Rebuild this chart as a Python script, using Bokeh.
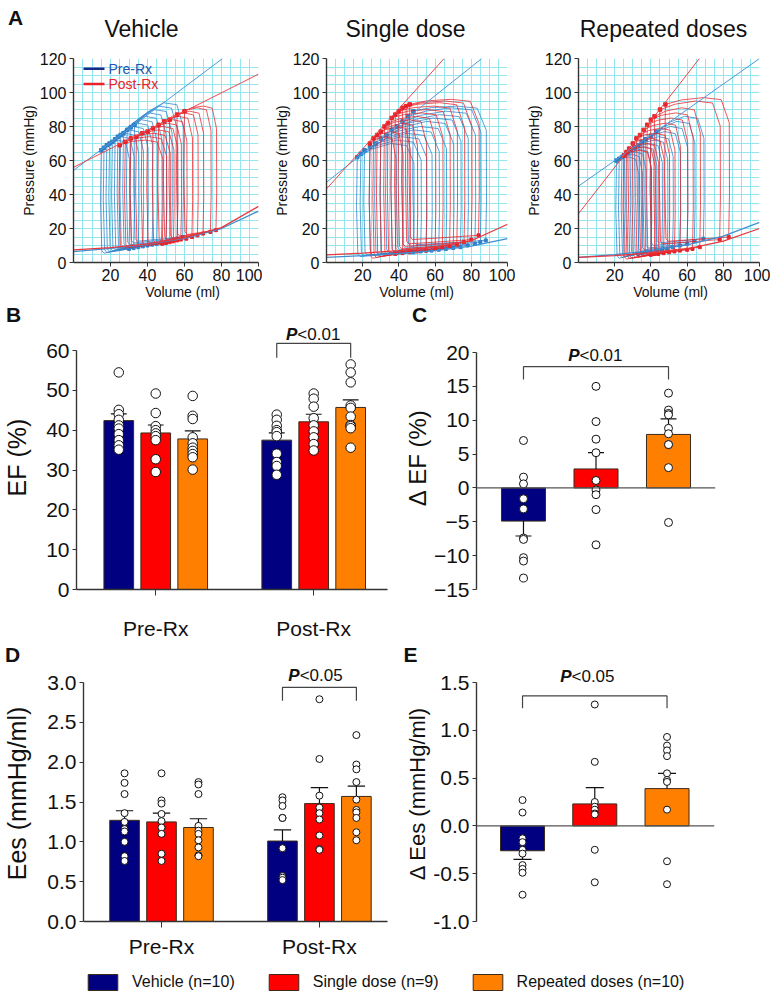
import math
from bokeh.plotting import figure
from bokeh.layouts import column, row
from bokeh.models import (Range1d, Label, Span, FixedTicker, SingleIntervalTicker,
                          NumeralTickFormatter, Legend, LegendItem, Spacer)
from bokeh.embed import file_html
from bokeh.resources import INLINE
from bokeh.core.properties import value

FONT = "Liberation Sans"
FONT_V = value(FONT)

# ---------------- data ----------------
groups = ["Vehicle (n=10)", "Single dose (n=9)", "Repeated doses (n=10)"]
bar_colors = ["#000080", "#ff0000", "#ff8000"]
phases = ["Pre-Rx", "Post-Rx"]
pv_titles = ["Vehicle", "Single dose", "Repeated doses"]

# Panel A: pressure-volume loops (end-systolic vol, end-diastolic vol, end-systolic P, peak P, end-diastolic P)
veh_pre_esv = [15, 16.5, 18, 19.5, 21, 22.5, 24, 25.5, 27, 29, 31, 33]
veh_pre_edv = [30, 32.5, 35, 37.5, 40, 42.5, 45, 47.5, 50, 53, 56, 59]
veh_pre_esp = [66, 67.5, 69, 70, 71, 72.5, 74, 75, 76, 78, 79.5, 81]
veh_pre_pmax = [72, 74, 76, 78, 80, 82, 84, 86, 88, 90, 92, 94]
veh_pre_edp = [8, 8.5, 9, 9.5, 10, 10.5, 11, 11.5, 12, 13, 14, 15]
veh_post_esv = [25, 28, 31, 34, 37, 40, 43, 46, 49, 52, 56, 60]
veh_post_edv = [48, 50, 52, 54, 56, 58, 61, 64, 67, 70, 74, 77]
veh_post_esp = [69, 71, 73, 74, 76, 77, 79, 81, 83, 84, 87, 89]
veh_post_pmax = [72, 74, 76, 78, 80, 82, 84, 86, 88, 89, 91, 92]
veh_post_edp = [11, 11.5, 12, 12.5, 13, 13.5, 14, 15, 16, 17, 18, 19]

sgl_pre_esv = [17, 19, 21, 24, 27, 30, 33, 36, 39, 42, 45, 48]
sgl_pre_edv = [48, 52, 55, 58, 62, 66, 70, 74, 78, 82, 85, 88]
sgl_pre_esp = [62, 64, 66, 68, 70, 73, 75, 78, 80, 83, 86, 89]
sgl_pre_pmax = [70, 72, 74, 76, 78, 80, 83, 85, 87, 89, 91, 92]
sgl_pre_edp = [6, 6.5, 7, 7, 7.5, 8, 8.5, 9, 10, 11, 12, 13]
sgl_post_esv = [24, 26, 28, 30, 32, 34, 36, 38, 40, 42, 44, 46]
sgl_post_edv = [38, 42, 46, 50, 55, 60, 64, 68, 72, 76, 80, 84]
sgl_post_esp = [70, 73, 75, 77, 80, 82, 85, 87, 89, 91, 92, 93]
sgl_post_pmax = [74, 77, 80, 82, 84, 86, 88, 90, 92, 94, 95, 96]
sgl_post_edp = [5, 5.5, 6, 6.5, 7, 8, 8.5, 9.5, 10.5, 12, 13.5, 16]

rep_pre_esv = [21, 22.5, 24, 25.5, 27, 29, 31, 33, 35, 37, 40, 43]
rep_pre_edv = [33, 35, 37, 40, 43, 46, 49, 52, 56, 60, 64, 69]
rep_pre_esp = [60, 61, 62, 63, 64.5, 66, 67.5, 69, 71, 72.5, 74.5, 77]
rep_pre_pmax = [62, 63.5, 65, 66.5, 68, 70, 72, 74, 77, 80, 83, 86]
rep_pre_edp = [5, 5.5, 6, 6.5, 7, 7.5, 8, 9, 10, 11, 12.5, 14]
rep_post_esv = [25, 26.5, 28, 30, 32, 34, 36, 38, 40, 42, 45, 48]
rep_post_edv = [40, 42, 44, 47, 50, 53, 56, 60, 63, 67, 78, 83]
rep_post_esp = [63, 65, 67, 70, 73, 75, 78, 81, 84, 86, 90, 93]
rep_post_pmax = [66, 68, 70, 73, 76, 79, 82, 85, 88, 91, 95, 97]
rep_post_edp = [4.5, 5, 5, 5.5, 6, 6.5, 7, 7.5, 8, 9, 13.5, 15]

# ESPVR lines (two end points each: volumes, pressures)
veh_espvr_pre = ([0, 80.6], [54.2, 120])
veh_espvr_post = ([0, 100], [56, 110.8])
sgl_espvr_pre = ([0, 85.8], [47.2, 120])
sgl_espvr_post = ([0, 65], [43.3, 120])
rep_espvr_pre = ([0, 100], [44.9, 120])
rep_espvr_post = ([0, 66.8], [28.7, 120])

# EDPVR curves
edpvr_vol = [0, 20, 40, 60, 80, 100]
veh_edpvr_pre = [6.4, 8.3, 10.6, 14.2, 20.0, 30.2]
veh_edpvr_post = [7.4, 8.8, 11.0, 14.6, 20.5, 33.0]
sgl_edpvr_pre = [3.0, 4.0, 5.3, 7.0, 9.6, 14.0]
sgl_edpvr_post = [4.5, 5.5, 7.0, 9.2, 12.8, 22.5]
rep_edpvr_pre = [3.0, 4.6, 7.0, 10.4, 15.5, 23.6]
rep_edpvr_post = [3.0, 4.0, 5.6, 8.0, 12.6, 20.0]

pv_x_ticks = [20, 40, 60, 80, 100]
pv_y_ticks = [0, 20, 40, 60, 80, 100, 120]

# Panel B: EF (%)
ef_pre_mean = [42.4, 39.3, 37.8]
ef_pre_sem = [1.7, 2.0, 2.0]
ef_post_mean = [37.5, 42.1, 45.7]
ef_post_sem = [1.8, 1.9, 1.9]
ef_pre_vehicle = [54.5, 45.1, 44.0, 42.6, 41.2, 40.4, 39.0, 37.5, 36.2, 35.1]
ef_pre_single = [49.2, 44.3, 41.0, 40.0, 39.2, 38.5, 37.5, 32.7, 29.5]
ef_pre_repeated = [48.6, 43.6, 42.8, 38.2, 36.7, 35.6, 34.8, 34.0, 33.2, 30.1]
ef_post_vehicle = [43.9, 42.6, 41.1, 40.0, 39.5, 38.5, 34.1, 32.0, 31.0, 28.8]
ef_post_single = [49.2, 47.9, 45.9, 43.0, 41.2, 39.7, 38.2, 36.5, 34.9]
ef_post_repeated = [56.5, 54.5, 52.0, 46.2, 45.6, 43.4, 41.3, 41.0, 40.5, 35.6]
ef_ticks = [0, 10, 20, 30, 40, 50, 60]

# Panel C: delta EF
def_mean = [-4.9, 2.8, 7.9]
def_sem = [2.2, 2.4, 2.3]
def_vehicle = [7.0, 1.6, 0.6, -1.6, -3.1, -7.4, -7.6, -10.3, -10.8, -13.3]
def_single = [15.0, 9.8, 7.2, 5.2, 1.1, -0.3, -1.0, -3.2, -8.4]
def_repeated = [14.0, 11.5, 11.0, 10.8, 8.8, 8.0, 6.4, 6.4, 3.0, -5.1]
def_ticks = [-15, -10, -5, 0, 5, 10, 15, 20]

# Panel D: Ees
ees_pre_mean = [1.27, 1.25, 1.18]
ees_pre_sem = [0.12, 0.11, 0.11]
ees_post_mean = [1.01, 1.48, 1.57]
ees_post_sem = [0.14, 0.20, 0.13]
ees_pre_vehicle = [1.86, 1.74, 1.60, 1.36, 1.25, 1.16, 1.00, 0.82, 0.76, 1.13]
ees_pre_single = [1.86, 1.52, 1.48, 1.35, 1.26, 1.18, 1.10, 0.85, 0.76]
ees_pre_repeated = [1.75, 1.72, 1.60, 1.20, 1.14, 1.10, 1.02, 0.93, 0.83, 0.82]
ees_post_vehicle = [1.56, 1.52, 1.45, 1.30, 0.92, 0.92, 0.57, 0.55, 0.52, 1.30]
ees_post_single = [2.79, 2.04, 1.58, 1.43, 1.36, 1.28, 1.08, 0.91, 0.90]
ees_post_repeated = [2.34, 1.97, 1.91, 1.75, 1.53, 1.40, 1.37, 1.12, 1.02, 1.30]
ees_ticks = [0, 0.5, 1.0, 1.5, 2.0, 2.5, 3.0]

# Panel E: delta Ees
dees_mean = [-0.26, 0.23, 0.39]
dees_sem = [0.09, 0.17, 0.16]
dees_vehicle = [0.27, 0.14, -0.13, -0.17, -0.25, -0.29, -0.41, -0.45, -0.49, -0.72]
dees_single = [1.27, 0.67, 0.25, 0.20, 0.17, 0.13, 0.12, -0.25, -0.59]
dees_repeated = [0.93, 0.84, 0.79, 0.73, 0.55, 0.48, 0.46, 0.17, -0.37, -0.61]
dees_ticks = [-1.0, -0.5, 0.0, 0.5, 1.0, 1.5]

# significance brackets (top, leg bottom, p text)
b_bracket = (61.8, 58.2, "<0.01")
c_bracket = (17.9, 16.0, "<0.01")
d_bracket = (2.94, 2.77, "<0.05")
e_bracket = (1.36, 1.23, "<0.05")

PV_BLUE = "#2f7fc8"
PV_RED = "#e8232b"
AX = "#333333"
TOTAL_W = 770


class Panel:
    """A figure whose frame sits at a given page-pixel position."""
    def __init__(self, box, frame, xr, yr, **kw):
        x0, y0, x1, y1 = box
        L, T, R, B = frame
        self.L, self.T, self.R, self.B = frame
        self.xr, self.yr = xr, yr
        self.p = figure(width=x1 - x0, height=y1 - y0,
                        x_range=Range1d(*xr), y_range=Range1d(*yr),
                        min_border_left=L - x0, min_border_right=x1 - R,
                        min_border_top=T - y0, min_border_bottom=y1 - B,
                        output_backend="svg", toolbar_location=None, **kw)
        self.p.outline_line_color = None
        self.p.background_fill_color = "white"
        self.p.border_fill_color = "white"

    def d(self, px, py):
        x = self.xr[0] + (px - self.L) / (self.R - self.L) * (self.xr[1] - self.xr[0])
        y = self.yr[1] - (py - self.T) / (self.B - self.T) * (self.yr[1] - self.yr[0])
        return x, y

    def label(self, px, py, text, size, style="normal", align="center",
              color="#111111", baseline="middle"):
        x, y = self.d(px, py)
        self.p.add_layout(Label(x=x, y=y, text=text, text_font=FONT,
                                text_font_size=f"{size}px", text_font_style=style,
                                text_align=align, text_baseline=baseline,
                                text_color=color))


def strip(y0, y1, texts):
    """Thin text-only band spanning the page width; data coords = page pixels."""
    s = figure(width=TOTAL_W, height=y1 - y0, x_range=Range1d(0, TOTAL_W),
               y_range=Range1d(y1, y0), x_axis_location=None, y_axis_location=None,
               min_border=0, output_backend="svg", toolbar_location=None)
    s.outline_line_color = None
    s.grid.visible = False
    for (x, y, t, size, style) in texts:
        s.add_layout(Label(x=x, y=y, text=t, text_font=FONT, text_font_size=f"{size}px",
                           text_font_style=style, text_align="center",
                           text_baseline="middle", text_color="#111111"))
    return s


def style_axis(ax, size):
    ax.axis_line_color = AX
    ax.axis_line_width = 1.4
    ax.major_tick_line_color = AX
    ax.major_tick_in = 0
    ax.major_tick_out = 4
    ax.minor_tick_line_color = None
    ax.major_label_text_font = FONT
    ax.major_label_text_font_size = f"{size}px"
    ax.major_label_text_color = "#111111"
    ax.major_label_standoff = 3
    ax.axis_label_text_font = FONT
    ax.axis_label_text_font_style = "normal"
    ax.axis_label_text_color = "#111111"


def loop_path(esv, edv, esp, pmax, edp):
    sv = edv - esv
    pmin = max(edp - 2.5, 1.5)
    xs = [edv, edv + 0.4, edv + 0.3, edv - 0.12 * sv, edv - 0.4 * sv,
          esv + 0.25 * sv, esv + 0.06 * sv, esv, esv - 0.4, esv + 0.3,
          esv + 1.5, esv + 0.45 * sv, edv]
    ys = [edp, edp + 0.3 * (pmax - edp), edp + 0.82 * (pmax - edp), pmax - 1.2, pmax,
          0.5 * (pmax + esp) + 0.6, esp + 0.6, esp, esp - 0.5 * (esp - pmin),
          pmin + 1.5, pmin, pmin + 0.4 * (edp - pmin), edp]
    return xs, ys


def pv_panel(box, frame, loops_pre, loops_post, espvr_pre, espvr_post,
             edpvr_pre, edpvr_post, show_legend=False):
    P = Panel(box, frame, (0, 100), (0, 120))
    p = P.p
    style_axis(p.xaxis, 16)
    style_axis(p.yaxis, 16)
    p.xaxis.ticker = FixedTicker(ticks=pv_x_ticks)
    p.yaxis.ticker = FixedTicker(ticks=pv_y_ticks)
    p.xaxis.major_label_standoff = 2
    p.yaxis.axis_label = "Pressure (mmHg)"
    p.yaxis.axis_label_text_font_size = "14px"
    p.yaxis.axis_label_standoff = 0
    p.xgrid.ticker = SingleIntervalTicker(interval=5)
    p.ygrid.ticker = SingleIntervalTicker(interval=5)
    p.grid.grid_line_color = "#94e5ee"
    p.grid.grid_line_width = 1

    for loops, col in ((loops_pre, PV_BLUE), (loops_post, PV_RED)):
        esv, edv, esp, pmax, edp = loops
        xs, ys = [], []
        for i in range(len(esv)):
            lx, ly = loop_path(esv[i], edv[i], esp[i], pmax[i], edp[i])
            xs.append(lx)
            ys.append(ly)
        p.multi_line(xs=xs, ys=ys, line_color=col, line_width=0.9, line_alpha=0.85)
        p.scatter(x=esv, y=esp, size=3.5, fill_color=col, line_color=col, marker="square")
        p.scatter(x=edv, y=edp, size=3, fill_color=col, line_color=col, marker="square")

    p.line(x=espvr_pre[0], y=espvr_pre[1], line_color="#4b9bd8", line_width=1)
    p.line(x=espvr_post[0], y=espvr_post[1], line_color="#ea4a4a", line_width=1)
    p.line(x=edpvr_vol, y=edpvr_pre, line_color="#3f8fd0", line_width=1.3)
    p.line(x=edpvr_vol, y=edpvr_post, line_color="#e8383c", line_width=1.3)

    if show_legend:
        x0, _ = P.d(P.L + 10, 0)
        x1, _ = P.d(P.L + 31, 0)
        xt, _ = P.d(P.L + 35, 0)
        p.segment(x0=[x0, x0], y0=[114, 105], x1=[x1, x1], y1=[114, 105],
                  line_color=["#1a2a88", "#e8232b"], line_width=2.5)
        p.text(x=[xt, xt], y=[114, 105], text=["Pre-Rx", "Post-Rx"],
               text_color=["#2156b0", "#e8232b"], text_font_size="14px",
               text_baseline="middle", text_font=FONT_V)
    return p


def draw_bars(P, xs, means, sems, pts, width, cap, dot):
    p = P.p
    p.vbar(x=xs, top=means, bottom=0, width=width, fill_color=bar_colors,
           line_color="#3b2a1a", line_width=1)
    ends = [m + (s if m >= 0 else -s) for m, s in zip(means, sems)]
    p.segment(x0=xs, y0=means, x1=xs, y1=ends, line_color="#111111", line_width=1.2)
    p.segment(x0=[x - cap for x in xs], y0=ends, x1=[x + cap for x in xs], y1=ends,
              line_color="#111111", line_width=1.2)
    px, py = [], []
    for x, vals in zip(xs, pts):
        px += [x] * len(vals)
        py += vals
    p.scatter(x=px, y=py, size=dot, fill_color="white", line_color="#111111", line_width=1)


def bracket(P, xa, xb, br, p_right_px, text_py, size=17):
    top, leg, txt = br
    P.p.line(x=[xa, xa, xb, xb], y=[leg, top, top, leg], line_color="#444444", line_width=1.2)
    P.label(p_right_px, text_py, "P", size, style="bold italic", align="right")
    P.label(p_right_px, text_py, txt, size, align="left")


# ---------------- Panel A ----------------
strip_a = strip(0, 45, [(15, 17, "A", 21, "bold"),
                        (141, 28, pv_titles[0], 23, "normal"),
                        (405, 28, pv_titles[1], 23, "normal"),
                        (663, 28, pv_titles[2], 23, "normal")])
a1 = pv_panel((0, 45, 262, 285), (73, 58, 258, 262),
              (veh_pre_esv, veh_pre_edv, veh_pre_esp, veh_pre_pmax, veh_pre_edp),
              (veh_post_esv, veh_post_edv, veh_post_esp, veh_post_pmax, veh_post_edp),
              veh_espvr_pre, veh_espvr_post, veh_edpvr_pre, veh_edpvr_post, show_legend=True)
a2 = pv_panel((262, 45, 515, 285), (326, 58, 507, 263),
              (sgl_pre_esv, sgl_pre_edv, sgl_pre_esp, sgl_pre_pmax, sgl_pre_edp),
              (sgl_post_esv, sgl_post_edv, sgl_post_esp, sgl_post_pmax, sgl_post_edp),
              sgl_espvr_pre, sgl_espvr_post, sgl_edpvr_pre, sgl_edpvr_post)
a3 = pv_panel((515, 45, 770, 285), (578, 58, 759, 263),
              (rep_pre_esv, rep_pre_edv, rep_pre_esp, rep_pre_pmax, rep_pre_edp),
              (rep_post_esv, rep_post_edv, rep_post_esp, rep_post_pmax, rep_post_edp),
              rep_espvr_pre, rep_espvr_post, rep_edpvr_pre, rep_edpvr_post)
strip_vol = strip(285, 300, [(182, 291, "Volume (ml)", 14, "normal"),
                             (416, 291, "Volume (ml)", 14, "normal"),
                             (670, 291, "Volume (ml)", 14, "normal")])

# ---------------- Panel B ----------------
strip_bc = strip(300, 325, [(13, 314, "B", 21, "bold"), (419, 314, "C", 21, "bold")])
OFF = 0.234
B = Panel((0, 325, 390, 642), (73, 325, 387, 589), (-0.5016, 1.4671), (0, 60 * (589 - 325) / 239))
pb = B.p
pb.grid.visible = False
style_axis(pb.yaxis, 21)
style_axis(pb.xaxis, 21)
pb.yaxis.bounds = (0, 60)
pb.yaxis.ticker = FixedTicker(ticks=ef_ticks)
pb.yaxis.axis_label = "EF (%)"
pb.yaxis.axis_label_text_font_size = "25px"
pb.yaxis.axis_label_standoff = 12
pb.xaxis.ticker = FixedTicker(ticks=[0, 1])
pb.xaxis.major_label_overrides = {0: phases[0], 1: phases[1]}
pb.xaxis.major_tick_out = 6
pb.xaxis.major_label_standoff = 21
xs_pre = [0 - OFF, 0, 0 + OFF]
xs_post = [1 - OFF, 1, 1 + OFF]
draw_bars(B, xs_pre, ef_pre_mean, ef_pre_sem, [ef_pre_vehicle, ef_pre_single, ef_pre_repeated], 0.188, 0.05, 9.5)
draw_bars(B, xs_post, ef_post_mean, ef_post_sem, [ef_post_vehicle, ef_post_single, ef_post_repeated], 0.188, 0.05, 9.5)
bracket(B, xs_post[0], xs_post[2], b_bracket, 296, 334)

# ---------------- Panel C ----------------
C = Panel((390, 325, 770, 642), (476, 325, 715, 589), (-0.648, 2.648),
          (-15, 20 + (352 - 325) / (237 / 35)), x_axis_location=None)
pc = C.p
pc.grid.visible = False
style_axis(pc.yaxis, 21)
pc.yaxis.bounds = (-15, 20)
pc.yaxis.ticker = FixedTicker(ticks=def_ticks)
pc.yaxis.axis_label = "\u0394 EF (%)"
pc.yaxis.axis_label_text_font_size = "24px"
pc.yaxis.axis_label_standoff = 0
pc.add_layout(Span(location=0, dimension="width", line_color="#555555", line_width=1.2))
xs3 = [0, 1, 2]
draw_bars(C, xs3, def_mean, def_sem, [def_vehicle, def_single, def_repeated], 0.607, 0.11, 8)
bracket(C, 0, 2, c_bracket, 579, 355)

# ---------------- Panel D ----------------
strip_de = strip(642, 665, [(12, 654, "D", 21, "bold"), (410, 654, "E", 21, "bold")])
D = Panel((0, 665, 390, 960), (79, 665, 387, 921), (-0.494, 1.431), (0, 3 * (921 - 665) / 239))
pd_ = D.p
pd_.grid.visible = False
style_axis(pd_.yaxis, 21)
style_axis(pd_.xaxis, 21)
pd_.yaxis.bounds = (0, 3)
pd_.yaxis.ticker = FixedTicker(ticks=ees_ticks)
pd_.yaxis.formatter = NumeralTickFormatter(format="0.0")
pd_.yaxis.axis_label = "Ees (mmHg/ml)"
pd_.yaxis.axis_label_text_font_size = "25px"
pd_.yaxis.axis_label_standoff = 13
pd_.xaxis.ticker = FixedTicker(ticks=[0, 1])
pd_.xaxis.major_label_overrides = {0: phases[0], 1: phases[1]}
pd_.xaxis.major_tick_out = 6
pd_.xaxis.major_label_standoff = 7
draw_bars(D, xs_pre, ees_pre_mean, ees_pre_sem, [ees_pre_vehicle, ees_pre_single, ees_pre_repeated], 0.1875, 0.055, 7)
draw_bars(D, xs_post, ees_post_mean, ees_post_sem, [ees_post_vehicle, ees_post_single, ees_post_repeated], 0.1875, 0.055, 7)
bracket(D, xs_post[0], xs_post[2], d_bracket, 298, 675)

# ---------------- Panel E ----------------
E = Panel((390, 665, 770, 960), (476, 665, 714, 921), (-0.637, 2.657),
          (-1.0, 1.5 + (682 - 665) / (239 / 2.5)), x_axis_location=None)
pe = E.p
pe.grid.visible = False
style_axis(pe.yaxis, 21)
pe.yaxis.bounds = (-1.0, 1.5)
pe.yaxis.ticker = FixedTicker(ticks=dees_ticks)
pe.yaxis.formatter = NumeralTickFormatter(format="0.0")
pe.yaxis.axis_label = "\u0394 Ees (mmHg/ml)"
pe.yaxis.axis_label_text_font_size = "22px"
pe.yaxis.axis_label_standoff = 0
pe.add_layout(Span(location=0, dimension="width", line_color="#555555", line_width=1.2))
draw_bars(E, xs3, dees_mean, dees_sem, [dees_vehicle, dees_single, dees_repeated], 0.609, 0.125, 7)
bracket(E, 0, 2, e_bracket, 571, 676)

# ---------------- legend ----------------
LEG_LEFT = 84
lf = figure(width=TOTAL_W - LEG_LEFT, height=34, x_range=Range1d(0, 1), y_range=Range1d(0, 1),
            x_axis_location=None, y_axis_location=None,
            min_border_left=0, min_border_right=0, min_border_top=12, min_border_bottom=0,
            output_backend="svg", toolbar_location=None)
lf.outline_line_color = None
lf.grid.visible = False
items = []
for g, c in zip(groups, bar_colors):
    r = lf.vbar(x=[-10], top=[0], width=0.1, fill_color=c, line_color="#3b2a1a", line_width=1)
    items.append(LegendItem(label=g, renderers=[r]))
leg = Legend(items=items, orientation="horizontal", location="top_left",
             glyph_width=37, glyph_height=20, label_height=20, label_standoff=11,
             spacing=30, padding=0, margin=0, border_line_color=None,
             background_fill_alpha=0, label_text_font=FONT, label_text_font_size="16px",
             label_text_color="#111111")
lf.add_layout(leg)
legend_row = row(Spacer(width=LEG_LEFT, height=34), lf)

layout = column(strip_a, row(a1, a2, a3), strip_vol, strip_bc, row(B.p, C.p),
                strip_de, row(D.p, E.p), legend_row)
open("out.html", "w").write(file_html(layout, INLINE))
